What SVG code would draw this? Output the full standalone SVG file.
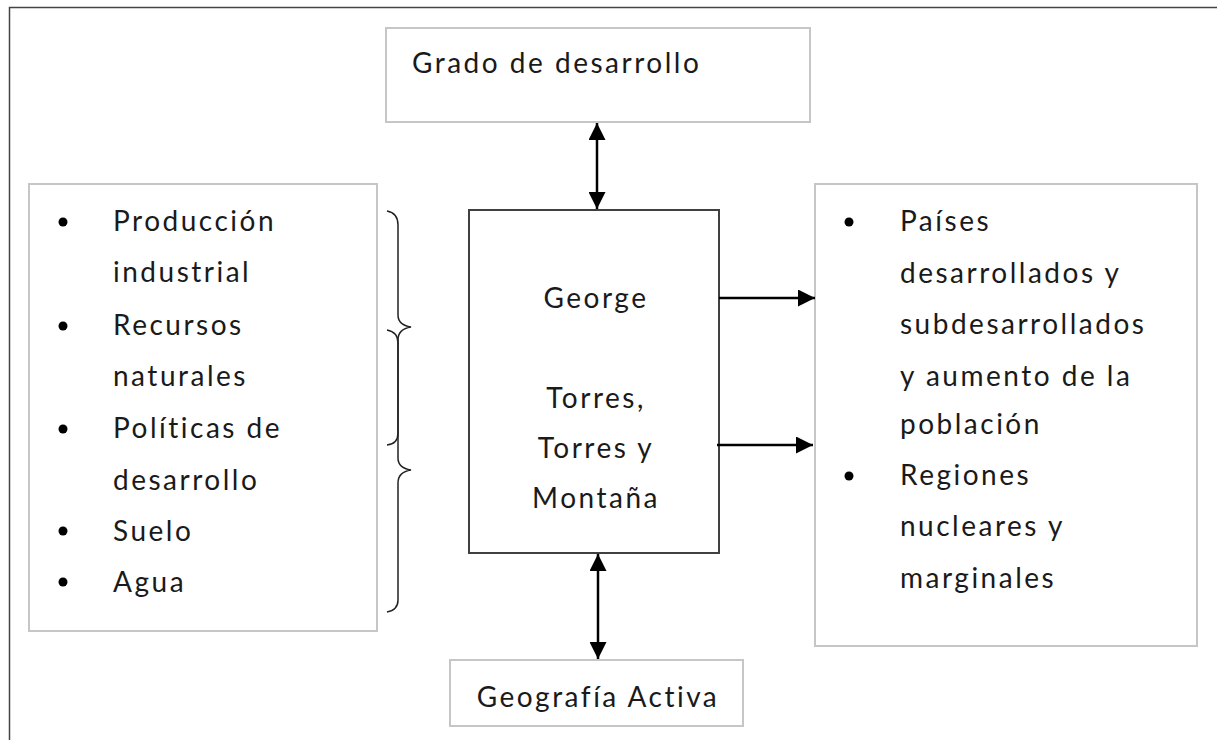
<svg xmlns="http://www.w3.org/2000/svg" width="1217" height="740" viewBox="0 0 1217 740">
<style>
.box{fill:#fff;stroke:#c6c6c6;stroke-width:2}
.main{fill:#fff;stroke:#404040;stroke-width:2}
.t{font-family:Lato,"Liberation Sans",sans-serif;font-size:28px;letter-spacing:2.5px;fill:#1a1a1a}
.c{text-anchor:middle}
.conn{stroke:#000;stroke-width:2.5;fill:none}
.brace{stroke:#222;stroke-width:1.5;fill:none}
</style>
<defs>
<marker id="ah" viewBox="0 0 10 10" refX="10" refY="5" markerWidth="18" markerHeight="17" markerUnits="userSpaceOnUse" orient="auto-start-reverse">
<path d="M0,0 L10,5 L0,10 z" fill="#000"/>
</marker>
</defs>
<rect width="1217" height="740" fill="#fff"/>
<path d="M9.5,740 V7.5 H1217" fill="none" stroke="#444" stroke-width="1.5"/>

<g id="grado">
<rect class="box" x="386" y="28" width="424" height="94"/>
<text class="t" x="412" y="73">Grado de desarrollo</text>
</g>

<g id="factores">
<rect class="box" x="29" y="184" width="348" height="447"/>
<g fill="#000"><circle cx="63" cy="222" r="4.5"/><circle cx="63" cy="326" r="4.5"/><circle cx="63" cy="429" r="4.5"/><circle cx="63" cy="531" r="4.5"/><circle cx="63" cy="582" r="4.5"/></g>
<text class="t" x="113" y="231">Producción</text>
<text class="t" x="113" y="282">industrial</text>
<text class="t" x="113" y="335">Recursos</text>
<text class="t" x="113" y="386">naturales</text>
<text class="t" x="113" y="438">Políticas de</text>
<text class="t" x="113" y="490">desarrollo</text>
<text class="t" x="113" y="541">Suelo</text>
<text class="t" x="113" y="592">Agua</text>
</g>

<g id="braces">
<path class="brace" d="M387,211 Q398,213 398,225 V315 Q398,325 411,327 Q398,329 398,340 V433 Q398,444 387,445"/>
<path class="brace" d="M387,330 Q398,332 398,343 V458 Q398,468 411,470 Q398,472 398,483 V600 Q398,610 387,612"/>
</g>

<g id="george">
<rect class="main" x="469" y="210" width="250" height="343"/>
<text class="t c" x="596" y="308">George</text>
<text class="t c" x="596" y="408">Torres,</text>
<text class="t c" x="596" y="458">Torres y</text>
<text class="t c" x="596" y="508">Montaña</text>
</g>

<g id="resultados">
<rect class="box" x="815" y="184" width="382" height="462"/>
<g fill="#000"><circle cx="849" cy="222" r="4.5"/><circle cx="849" cy="476" r="4.5"/></g>
<text class="t" x="900" y="231">Países</text>
<text class="t" x="900" y="283">desarrollados y</text>
<text class="t" x="900" y="334">subdesarrollados</text>
<text class="t" x="900" y="386">y aumento de la</text>
<text class="t" x="900" y="434">población</text>
<text class="t" x="900" y="485">Regiones</text>
<text class="t" x="900" y="536">nucleares y</text>
<text class="t" x="900" y="588">marginales</text>
</g>

<g id="geografia">
<rect class="box" x="450" y="660" width="293" height="66"/>
<text class="t c" x="598" y="707">Geografía Activa</text>
</g>

<g id="connectors">
<line class="conn" x1="597" y1="123" x2="597" y2="209" marker-start="url(#ah)" marker-end="url(#ah)"/>
<line class="conn" x1="598" y1="554" x2="598" y2="659" marker-start="url(#ah)" marker-end="url(#ah)"/>
<line class="conn" x1="719" y1="298" x2="815" y2="298" marker-end="url(#ah)"/>
<line class="conn" x1="717" y1="445" x2="813" y2="445" marker-end="url(#ah)"/>
</g>
</svg>
